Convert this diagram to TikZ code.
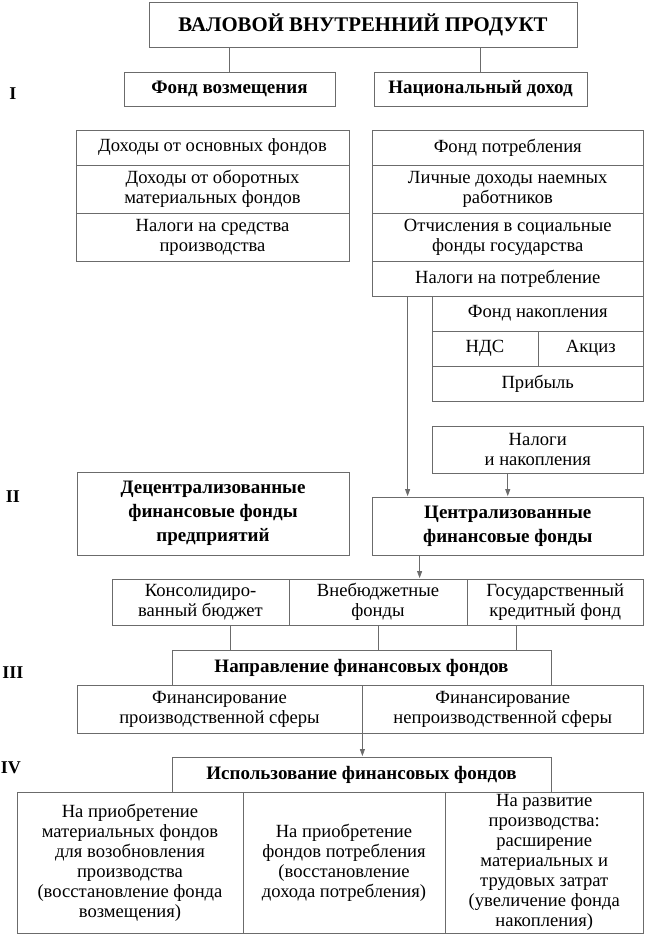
\documentclass[tikz,border=0pt]{standalone}
\usepackage{fontspec}
\setmainfont{Liberation Serif}
\usetikzlibrary{arrows.meta}
\definecolor{linecol}{gray}{0.42}
\newcommand\normfont{\fontsize{18.6}{20}\selectfont}
\newcommand\boldfnt{\fontsize{19}{24}\selectfont\bfseries}
\newcommand\titlefnt{\fontsize{20.8}{24}\selectfont\bfseries}
\newcommand\mycell[7]{\node[cellbox,#6,minimum width={(#4-#2)*1pt},minimum height={(#5-#3)*1pt}] (#1) at ({(#2+#4)/2},{(#3+#5)/2}) {#7};}
\tikzset{
  cellbox/.style={draw=linecol, line width=0.8pt, inner sep=0pt, align=center, font=\normfont, text=black},
  boldbox/.style={font=\boldfnt},
  titlebox/.style={font=\titlefnt},
  plain/.style={},
  conn/.style={draw=linecol, line width=0.8pt},
  arr/.style={conn, -{Triangle[length=7pt,width=5pt]}, shorten >=0.5pt},
  lab/.style={font=\fontsize{18}{20}\selectfont\bfseries, inner sep=0pt}
}
\begin{document}
\begin{tikzpicture}[x=1pt,y=-1pt]
\useasboundingbox (0,0) rectangle (645,935);
% level I
\mycell{top}{149}{2}{577}{47}{titlebox}{ВАЛОВОЙ ВНУТРЕННИЙ ПРОДУКТ}
\mycell{fv}{124}{72}{335}{106}{boldbox}{Фонд возмещения}
\mycell{nd}{374}{72}{587}{106}{boldbox}{Национальный доход}
\draw[conn] (fv.north) -- (fv.north |- top.south);
\draw[conn] (nd.north) -- (nd.north |- top.south);
% left table
\mycell{la}{76}{130}{349}{165}{plain}{Доходы от основных фондов}
\mycell{lb}{76}{165}{349}{213}{plain}{Доходы от оборотных\\материальных фондов}
\mycell{lc}{76}{213}{349}{261}{plain}{Налоги на средства\\производства}
% right table
\mycell{ra}{372}{130}{643.5}{165}{plain}{Фонд потребления}
\mycell{rb}{372}{165}{643.5}{213}{plain}{Личные доходы наемных\\работников}
\mycell{rc}{372}{213}{643.5}{261}{plain}{Отчисления в социальные\\фонды государства}
\mycell{rd}{372}{261}{643.5}{296}{plain}{Налоги на потребление}
\mycell{na}{432}{296}{643.5}{331}{plain}{Фонд накопления}
\mycell{nb}{432}{331}{538}{366}{plain}{НДС}
\mycell{nc}{538}{331}{643.5}{366}{plain}{Акциз}
\mycell{nd2}{432}{366}{643.5}{401}{plain}{Прибыль}
\mycell{nn}{432}{426}{643.5}{473}{plain}{Налоги\\и накопления}
% level II
\mycell{dec}{77}{472}{349}{555}{boldbox}{Децентрализованные\\финансовые фонды\\предприятий}
\mycell{cen}{372}{497}{643.5}{555}{boldbox}{Централизованные\\финансовые фонды}
\draw[arr] ([xshift=36pt]rd.south west) -- ([xshift=36pt]rd.south west |- cen.north);
\draw[arr] (nn.south -| cen.north) -- (cen.north);
\mycell{ba}{112}{579}{289}{625}{plain}{Консолидиро-\\ванный бюджет}
\mycell{bb}{289}{579}{467}{625}{plain}{Внебюджетные\\фонды}
\mycell{bc}{467}{579}{643.5}{625}{plain}{Государственный\\кредитный фонд}
\draw[arr] ([xshift=48pt]cen.south west) -- ([xshift=48pt]cen.south west |- bb.north);
% level III
\mycell{nap}{172}{650}{551}{685}{boldbox}{Направление финансовых фондов}
\draw[conn] ([xshift=30pt]ba.south) -- ([xshift=30pt]ba.south |- nap.north);
\draw[conn] (bb.south) -- (bb.south |- nap.north);
\draw[conn] ([xshift=-39pt]bc.south) -- ([xshift=-39pt]bc.south |- nap.north);
\mycell{fa}{77}{685}{362}{733}{plain}{Финансирование\\производственной сферы}
\mycell{fb}{362}{685}{643.5}{733}{plain}{Финансирование\\непроизводственной сферы}
% level IV
\mycell{isp}{172}{757}{551}{792}{boldbox}{Использование финансовых фондов}
\draw[arr] (fa.south east) -- (fa.south east |- isp.north);
\mycell{ua}{17}{792}{243}{933}{plain}{На приобретение\\материальных фондов\\для возобновления\\производства\\(восстановление фонда\\возмещения)}
\mycell{ub}{243}{792}{445}{933}{plain}{На приобретение\\фондов потребления\\(восстановление\\дохода потребления)}
\mycell{uc}{445}{792}{643.5}{933}{plain}{На развитие\\производства:\\расширение\\материальных и\\трудовых затрат\\(увеличение фонда\\накопления)}
% level labels
\node[lab] (l1) at (13,94) {I};
\node[lab] (l2) at (13,497) {II};
\node[lab] (l3) at (13,673) {III};
\node[lab] (l4) at (11,768) {IV};
\end{tikzpicture}
\end{document}
